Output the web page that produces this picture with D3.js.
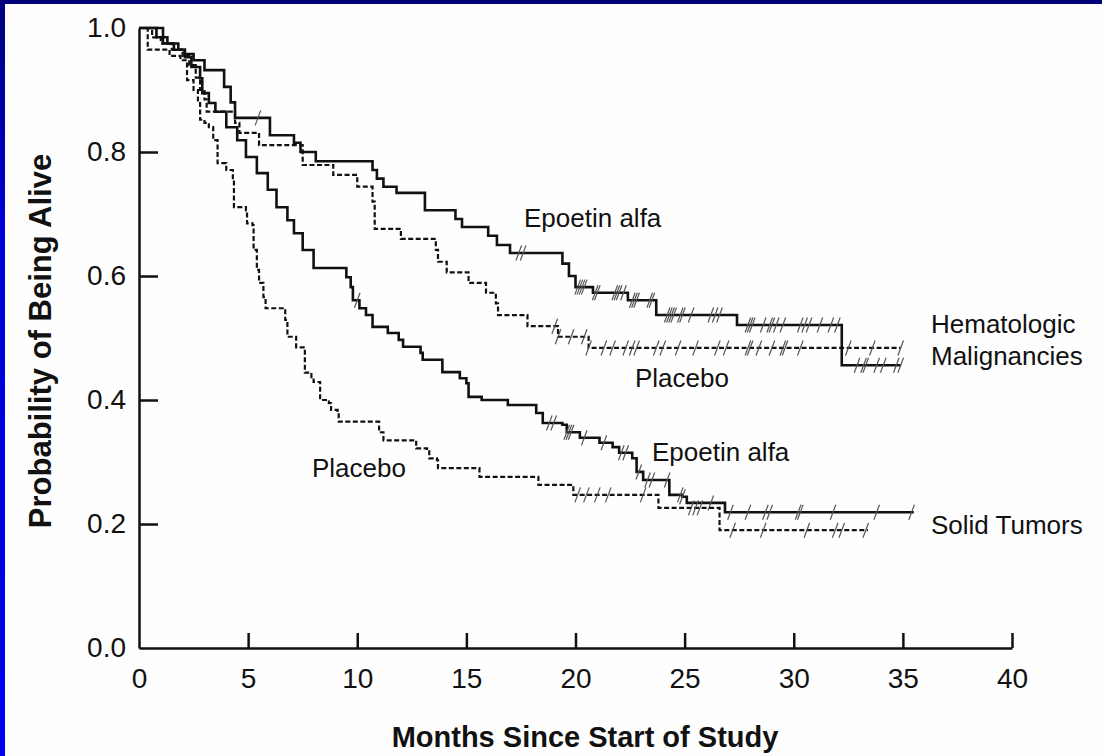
<!DOCTYPE html>
<html>
<head>
<meta charset="utf-8">
<script src="https://cdn.jsdelivr.net/npm/d3@7"></script>
<style>
  html, body { margin: 0; padding: 0; background: #fff; }
  svg { display: block; }
  text { font-family: "Liberation Sans", Arial, Helvetica, sans-serif; fill: #111; }
</style>
</head>
<body>
<svg id="chart" width="1102" height="756"></svg>
<script>
// Kaplan-Meier step data: [month, probability after the step]
const hemEpoetin = [[0,1],[1.1,0.975],[1.6,0.965],[2.1,0.958],[2.5,0.948],[3.0,0.932],[3.9,0.905],[4.2,0.88],[4.4,0.855],[6.0,0.827],[7.1,0.815],[7.4,0.8],[8.1,0.785],[10.7,0.771],[10.9,0.757],[11.2,0.744],[11.8,0.734],[13.1,0.706],[14.5,0.692],[14.8,0.679],[16.0,0.665],[16.4,0.65],[17.0,0.637],[19.4,0.62],[19.7,0.6],[20.0,0.582],[20.8,0.573],[22.4,0.561],[23.7,0.537],[27.4,0.521],[32.2,0.456]];
const hemEpoetinEnd = 34.9;
const hemPlacebo = [[0,1],[0.6,0.985],[1.0,0.975],[1.5,0.965],[2.0,0.955],[2.3,0.94],[2.6,0.92],[2.8,0.9],[3.0,0.885],[3.1,0.865],[4.4,0.847],[4.6,0.831],[5.5,0.811],[7.5,0.779],[8.9,0.763],[10.0,0.744],[10.7,0.72],[10.8,0.676],[12.0,0.66],[13.6,0.642],[13.7,0.623],[14.1,0.606],[15.1,0.589],[15.9,0.573],[16.35,0.556],[16.45,0.537],[17.8,0.519],[19.2,0.502],[20.6,0.484]];
const hemPlaceboEnd = 34.9;
const solidEpoetin = [[0,1],[0.8,0.985],[1.3,0.975],[1.8,0.965],[2.1,0.953],[2.4,0.937],[2.8,0.919],[2.9,0.895],[3.2,0.879],[3.5,0.865],[4.0,0.84],[4.5,0.819],[4.9,0.792],[5.4,0.766],[5.9,0.739],[6.3,0.711],[6.8,0.69],[7.1,0.669],[7.5,0.642],[8.0,0.613],[9.5,0.598],[9.7,0.582],[9.8,0.561],[10.1,0.548],[10.4,0.537],[10.7,0.518],[11.4,0.508],[11.9,0.497],[12.1,0.486],[12.9,0.476],[13.0,0.465],[13.9,0.445],[14.7,0.435],[15.0,0.427],[15.1,0.405],[15.7,0.4],[16.9,0.392],[18.2,0.379],[18.5,0.363],[19.4,0.36],[19.6,0.348],[20.2,0.339],[21.1,0.331],[21.7,0.324],[22.0,0.315],[22.6,0.306],[22.8,0.284],[23.1,0.271],[24.3,0.247],[24.9,0.244],[25.1,0.234],[26.85,0.219]];
const solidEpoetinEnd = 35.5;
const solidPlacebo = [[0,1],[0.4,0.965],[1.4,0.955],[1.9,0.948],[2.2,0.916],[2.5,0.9],[2.7,0.879],[2.8,0.852],[3.0,0.847],[3.2,0.84],[3.4,0.819],[3.6,0.782],[4.0,0.771],[4.3,0.755],[4.35,0.711],[4.9,0.706],[4.95,0.685],[5.2,0.682],[5.25,0.642],[5.4,0.61],[5.5,0.589],[5.7,0.566],[5.8,0.548],[6.7,0.529],[6.8,0.502],[7.2,0.485],[7.6,0.444],[7.9,0.437],[8.0,0.429],[8.3,0.4],[8.7,0.395],[8.8,0.384],[9.1,0.379],[9.15,0.365],[11.0,0.348],[11.2,0.335],[12.7,0.322],[13.2,0.319],[13.3,0.306],[13.65,0.303],[13.7,0.29],[15.6,0.276],[18.3,0.263],[19.9,0.247],[23.8,0.226],[26.6,0.19]];
const solidPlaceboEnd = 33.4;

// Censoring times (months)
const hemEpoetinCensored = [5.45,17.4,17.6,20.1,20.2,20.3,20.4,20.9,21.0,21.8,21.9,22.0,22.2,22.6,22.7,22.8,23.4,23.5,24.2,24.3,24.4,24.5,24.8,24.9,25.3,26.2,26.4,26.6,27.9,28.0,28.1,28.6,28.9,29.0,29.2,29.5,30.3,30.5,30.7,31.2,31.7,32.0,32.9,33.2,33.3,33.8,34.1,34.7,34.9];
const hemPlaceboCensored = [19.05,19.2,19.8,20.4,20.6,21.3,21.7,22.3,22.6,22.8,23.7,24.0,24.7,25.5,26.5,26.9,27.9,28.0,28.4,29.0,29.5,29.6,30.3,32.5,33.6,34.9];
const solidEpoetinCensored = [10.0,18.8,19.0,19.6,19.7,19.8,20.4,21.3,22.1,22.3,22.9,23.3,23.5,24.2,24.8,24.9,26.2,27.1,27.9,28.7,28.9,30.2,30.3,31.8,33.8,35.4];
const solidPlaceboCensored = [20.1,20.5,21.0,21.5,23.1,25.3,25.5,25.7,27.2,28.6,30.6,31.9,32.2,33.3];

const xTicks = [0,5,10,15,20,25,30,35,40];
const yTicks = [0,0.2,0.4,0.6,0.8,1.0];

const svg = d3.select("#chart");
const W = 1102, H = 756;

// slide frame
const defs = svg.append("defs");
const grad = defs.append("linearGradient").attr("id","frame").attr("x1",0).attr("y1",0).attr("x2",0).attr("y2",1);
grad.append("stop").attr("offset","0%").attr("stop-color","#000078");
grad.append("stop").attr("offset","30%").attr("stop-color","#0000d8");
grad.append("stop").attr("offset","100%").attr("stop-color","#0000f2");
svg.append("rect").attr("width",W).attr("height",H).attr("fill","url(#frame)");
svg.append("rect").attr("x",5).attr("y",4).attr("width",W-5).attr("height",H-4).attr("fill","#fefefe");

const x = d3.scaleLinear().domain([0,40]).range([139,1012]);
const y = d3.scaleLinear().domain([0,1]).range([648,28]);

// axes
const xAxis = d3.axisBottom(x).tickValues(xTicks).tickFormat(d3.format("d"))
  .tickSizeInner(-15).tickSizeOuter(0).tickPadding(20);
const yAxis = d3.axisLeft(y).tickValues(yTicks).tickFormat(d3.format(".1f"))
  .tickSizeInner(-19).tickSizeOuter(0).tickPadding(13);

const gx = svg.append("g").attr("transform",`translate(0,${y(0)})`).call(xAxis);
const gy = svg.append("g").attr("transform",`translate(${x(0)},0)`).call(yAxis);
[gx, gy].forEach(g => {
  g.select(".domain").attr("stroke","#111").attr("stroke-width",2.5);
  g.selectAll(".tick line").attr("stroke","#111").attr("stroke-width",2.5);
  g.selectAll(".tick text").attr("font-size",28).attr("fill","#111")
    .attr("font-family","'Liberation Sans', Arial, sans-serif");
});
gy.selectAll(".tick").filter(d => d === 0 || d === 1).select("line").remove();
gx.selectAll(".tick").filter(d => d === 0).select("line").remove();

// axis titles
svg.append("text").attr("x",585).attr("y",747).attr("text-anchor","middle")
  .attr("font-size",29).attr("font-weight","bold").text("Months Since Start of Study");
svg.append("text").attr("transform","translate(51,341) rotate(-90)").attr("text-anchor","middle")
  .attr("font-size",31).attr("font-weight","bold").text("Probability of Being Alive");

// survival curves
const line = d3.line().x(d => x(d[0])).y(d => y(d[1])).curve(d3.curveStepAfter);
function withEnd(data, end) { return data.concat([[end, data[data.length-1][1]]]); }
function survivalAt(data, t) {
  let p = 1;
  for (const d of data) { if (d[0] <= t) p = d[1]; else break; }
  return p;
}

const series = [
  {data: hemEpoetin, end: hemEpoetinEnd, cens: hemEpoetinCensored, dashed: false},
  {data: hemPlacebo, end: hemPlaceboEnd, cens: hemPlaceboCensored, dashed: true},
  {data: solidEpoetin, end: solidEpoetinEnd, cens: solidEpoetinCensored, dashed: false},
  {data: solidPlacebo, end: solidPlaceboEnd, cens: solidPlaceboCensored, dashed: true}
];

series.forEach(s => {
  svg.append("path").attr("d", line(withEnd(s.data, s.end)))
    .attr("fill","none").attr("stroke","#111")
    .attr("stroke-width", s.dashed ? 2.2 : 2.6)
    .attr("stroke-dasharray", s.dashed ? "5,2.5" : null)
    .attr("stroke-linejoin","miter");
  svg.append("g").selectAll("line").data(s.cens).join("line")
    .attr("x1", t => x(t) - 2.8).attr("y1", t => y(survivalAt(s.data, t)) + 7.5)
    .attr("x2", t => x(t) + 2.8).attr("y2", t => y(survivalAt(s.data, t)) - 7.5)
    .attr("stroke","#555").attr("stroke-width",1.2);
});

// curve labels
const labels = [
  {text: "Epoetin alfa", x: 524, y: 227},
  {text: "Placebo", x: 635, y: 387},
  {text: "Epoetin alfa", x: 652, y: 461},
  {text: "Placebo", x: 312, y: 477},
  {text: "Hematologic", x: 931, y: 333},
  {text: "Malignancies", x: 931, y: 365},
  {text: "Solid Tumors", x: 931, y: 534}
];
svg.append("g").selectAll("text").data(labels).join("text")
  .attr("x", d => d.x).attr("y", d => d.y).attr("font-size", 26).text(d => d.text);
</script>
</body>
</html>
